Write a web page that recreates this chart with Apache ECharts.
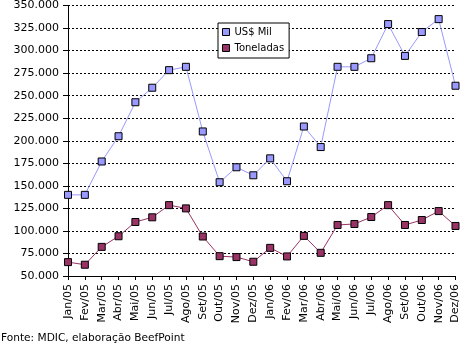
<!DOCTYPE html>
<html>
<head>
<meta charset="utf-8">
<script src="https://cdn.jsdelivr.net/npm/echarts@6/dist/echarts.min.js"></script>
<style>
html,body{margin:0;padding:0;background:#fff;}
#c{width:461px;height:344px;}
</style>
</head>
<body>
<div id="c"></div>
<script>
const categories = ['Jan/05','Fev/05','Mar/05','Abr/05','Mai/05','Jun/05','Jul/05','Ago/05','Set/05','Out/05','Nov/05','Dez/05',
                    'Jan/06','Fev/06','Mar/06','Abr/06','Mai/06','Jun/06','Jul/06','Ago/06','Set/06','Out/06','Nov/06','Dez/06'];
const usdMil = [140000,140000,177000,205000,242700,258800,278300,282000,210300,154000,170600,161700,
                180500,155100,215800,193000,282000,282000,291500,329400,294100,320600,334900,261000];
const toneladas = [65400,62500,82300,94100,109900,115100,128600,125000,93800,72000,71000,65800,
                   81200,71700,94500,75700,106600,107700,115400,128600,106600,112100,122000,105500];
const seriesNames = ['US$ Mil','Toneladas'];
const footerText = 'Fonte: MDIC, elaboração BeefPoint';

function fmt(v){ return String(v).replace(/\B(?=(\d{3})+(?!\d))/g,'.'); }

const chart = echarts.init(document.getElementById('c'), null, {renderer:'canvas'});
const FONT = 'DejaVu Sans';
chart.setOption({
  animation:false,
  backgroundColor:'#fff',
  grid:{left:68, top:4, right:5.3, bottom:68, containLabel:false},
  legend:{
    left:218, top:23, orient:'vertical',
    data:seriesNames,
    backgroundColor:'#fff', borderColor:'#000', borderWidth:1,
    padding:[2,5,3,4], itemGap:2, itemWidth:7, itemHeight:7,
    icon:'rect',
    textStyle:{fontFamily:FONT, fontSize:10, color:'#000', lineHeight:14, padding:[0,0,0,0]},
    itemStyle:{borderColor:'#000', borderWidth:1}
  },
  xAxis:{
    type:'category', data:categories, boundaryGap:false,
    axisLine:{lineStyle:{color:'#000', width:1}},
    axisTick:{show:true, length:4, interval:0, lineStyle:{color:'#000'}},
    axisLabel:{interval:0, rotate:90, margin:8, fontFamily:FONT, fontSize:11, color:'#000'},
    splitLine:{show:false}
  },
  yAxis:{
    type:'value', min:50000, max:350000, interval:25000,
    axisLine:{show:true, lineStyle:{color:'#000', width:1}},
    axisTick:{show:true, length:5, lineStyle:{color:'#000'}},
    axisLabel:{margin:9, fontFamily:FONT, fontSize:11, color:'#000', formatter:fmt},
    splitLine:{show:true, lineStyle:{color:'#000', width:1, type:[2,2]}}
  },
  graphic:[{
    type:'text', left:1, top:333,
    style:{text:footerText, fontFamily:FONT, fontSize:10.6, fill:'#000'}
  }],
  series:[
    {name:seriesNames[0], type:'line', data:usdMil, symbol:'rect', symbolSize:7,
     itemStyle:{color:'#9999FF', borderColor:'#000', borderWidth:1},
     lineStyle:{color:'#9999FF', width:1}},
    {name:seriesNames[1], type:'line', data:toneladas, symbol:'rect', symbolSize:7,
     itemStyle:{color:'#993366', borderColor:'#000', borderWidth:1},
     lineStyle:{color:'#993366', width:1}}
  ]
});
</script>
</body>
</html>
